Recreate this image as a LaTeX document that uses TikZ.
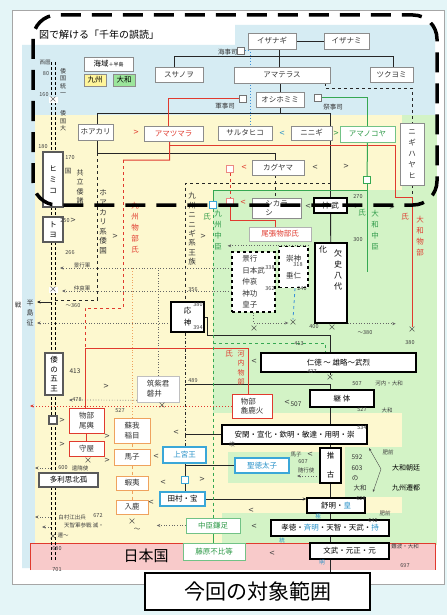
\documentclass[tikz,border=0pt]{standalone}
\usepackage{fontspec}
\setmainfont{Noto Sans CJK JP}
\usetikzlibrary{arrows.meta}

\definecolor{outb}{HTML}{E4F5F7}
\definecolor{skyb}{HTML}{D6ECF3}
\definecolor{yelb}{HTML}{FDF8CF}
\definecolor{grnb}{HTML}{D3F3C6}
\definecolor{pinkb}{HTML}{F8CACA}
\definecolor{redl}{HTML}{E03A2E}
\definecolor{grnl}{HTML}{35A852}
\definecolor{grnt}{HTML}{2E9A48}
\definecolor{cyanl}{HTML}{3BA7D8}
\definecolor{cyant}{HTML}{2590C8}
\definecolor{orng}{HTML}{EFA25E}
\definecolor{bluel}{HTML}{3A8FD8}
\definecolor{grayk}{HTML}{5A5A5A}
\definecolor{kyuy}{HTML}{FFF59A}
\definecolor{yamg}{HTML}{9BE59B}

\pgfdeclarelayer{bgfill}
\pgfdeclarelayer{lines}
\pgfsetlayers{bgfill,lines,main}

\tikzset{
  sz/.style 2 args={minimum width=#1pt, minimum height=#2pt},
  box/.style={draw=black!45, fill=white, inner sep=1pt, text=black!80, font=\fontsize{7.5}{9}\selectfont},
  kbox/.style={box, draw=black, line width=1.4pt, text=black},
  gbox/.style={box, draw=grayk, line width=1.8pt, text=black},
  rbox/.style={box, draw=redl, line width=1pt},
  obox/.style={box, draw=orng, line width=1pt},
  cbox/.style={box, draw=cyanl, line width=1.1pt, text=cyant},
  grbox/.style={box, draw=grnl!70, text=grnt},
  dbox/.style={box, draw=black, dashed, line width=1.4pt},
  vt/.style={align=center, font=\fontsize{7.5}{#1}\selectfont},
  lbl/.style={inner sep=0.3pt, text=black!80, font=\fontsize{6.5}{7.5}\selectfont},
  vlbl/.style={lbl, align=center, font=\fontsize{7}{#1}\selectfont},
  num/.style={inner sep=0.3pt, text=black!75, font=\fontsize{5.5}{6}\selectfont},
  mk/.style={inner sep=0pt, text=black!75, font=\fontsize{9}{9}\selectfont},
  xm/.style={inner sep=0.5pt, text=black!80, font=\fontsize{8}{8}\selectfont},
  sq/.style={draw=black!55, fill=white, minimum size=7pt, inner sep=0pt},
  ln/.style={black!85, line width=0.9pt},
  rl/.style={redl, line width=1pt},
  gl/.style={grnl, line width=1pt},
  dl/.style={black!60, dotted, line width=0.7pt},
  arr/.style={-{Stealth[length=3.5pt, width=3pt]}},
}

\begin{document}
\begin{tikzpicture}[x=1pt, y=-1pt]
\useasboundingbox (0,0) rectangle (447,615);

% coloured areas
\begin{pgfonlayer}{bgfill}
\fill[outb] (0,0) rectangle (447,615);
\draw[black!35, fill=white] (12,10) rectangle (444,584);
\fill[skyb] (22,45) -- (235,45) -- (235,25) -- (435,25) -- (435,115) -- (35,115) -- (35,568) -- (22,568) -- cycle;
\fill[yelb] (35,115) rectangle (402,545);
\fill[grnb] (402,115) rectangle (437,545);
\fill[grnb] (213,190) rectangle (437,413);
\fill[grnb] (228,452) rectangle (320,483);
\fill[grnb] (345,447) rectangle (437,497);
\fill[grnb] (222,513) rectangle (402,543);
\fill[pinkb] (30,543) rectangle (435,570);
\draw[redl, line width=0.8pt] (30,570) -- (30,543) -- (435,543) -- (435,570);
\end{pgfonlayer}

% title and legend
\node[anchor=west, inner sep=0pt, font=\fontsize{10}{10}\selectfont] (title) at (39,35) {図で解ける「千年の誤読」};
\node[box, sz={49}{14}, text=black] (lgsea) at (108.5,64) {海域{\fontsize{5}{5}\selectfont ＋半島}};
\node[box, sz={22}{12}, fill=kyuy, text=black] (lgkyu) at (95,80) {九州};
\node[box, sz={22}{12}, fill=yamg, text=black] (lgyam) at (124,80) {大和};

% kami
\node[box, sz={48}{16}] (izanagi) at (272,41) {イザナギ};
\node[box, sz={45}{16}] (izanami) at (346.5,41) {イザナミ};
\node[box, sz={48}{15}] (susanoo) at (179,74.5) {スサノヲ};
\node[box, sz={96}{16}] (amaterasu) at (282,75) {アマテラス};
\node[box, sz={43}{15}] (tsukuyomi) at (391.5,74.5) {ツクヨミ};
\node[box, sz={48}{15}] (oshihomimi) at (280,99.5) {オシホミミ};
\node[box, sz={35}{16}] (hoakari) at (95.5,132) {ホアカリ};
\node[box, sz={59}{15}, text=redl] (amatsumara) at (173.5,133.5) {アマツマラ};
\node[box, sz={54}{14}] (sarutahiko) at (245,133) {サルタヒコ};
\node[box, sz={41}{14}] (ninigi) at (311.5,133) {ニニギ};
\node[grbox, sz={55}{16}] (amanokoya) at (367.5,134) {アマノコヤ};
\node[box, sz={24}{62}, vt=11] (nigihayahi) at (412,154) {ニ\\ギ\\ハ\\ヤ\\ヒ};
\node[box, sz={52}{15}] (kaguyama) at (278,167.5) {カグヤマ};
\node[box, sz={49}{20}, vt=9, align=left] (shikarashi) at (276.5,208) {シカラ\\シ};
\node[box, sz={62}{14}, draw=black!30, text=redl] (owari) at (280,234) {尾張物部氏};
\node[kbox, sz={33}{15}] (jimmu) at (330.5,205.5) {神\ 武};

% squares
\node[sq] (ksq) at (241,51) {};
\node[sq] (gsq) at (243,99) {};
\node[sq] (ssq) at (318,98) {};
\node[sq, draw=redl!60] (psq1) at (230,169) {};
\node[sq, draw=redl!60] (psq2) at (230,202) {};
\node[sq, draw=grnl] (gsq3) at (367,180) {};
\node[sq, draw=cyanl] (cysq) at (213,205) {};
\node[lbl, anchor=east] (l-kaiji) at (238,52) {海事司};
\node[lbl] (l-gunji) at (225,106) {軍事司};
\node[lbl] (l-saiji) at (333,107) {祭事司};

% kyushu / yamato
\node[kbox, sz={32}{80}] (kesshi) at (331,283) {};
\node[lbl, text=black, font=\fontsize{8}{8}\selectfont] (l-ka) at (323,250) {化};
\node[vlbl=11, text=black, font=\fontsize{8}{11}\selectfont] (l-kesshi) at (338,270) {欠\\史\\八\\代};
\node[dbox, sz={43}{60}, vt=11.5, align=left] (keiko) at (253.5,282) {景行\\日本武\\仲哀\\神功\\皇子};
\node[dbox, sz={29}{41}, vt=17, align=left] (sujin) at (293.5,267) {崇神\\垂仁};
\node[kbox, sz={33}{30}, vt=12] (ojin) at (187.5,317) {応\\神};
\node[kbox, sz={155}{19}] (nintoku) at (338.5,362.5) {仁徳\ ～\ 雄略～武烈};
\node[rbox, sz={40}{24}, vt=9, align=left] (arakabi) at (252,406) {物部\\麁鹿火};
\node[kbox, sz={64}{17}] (keitai) at (342,398.5) {継\ 体};
\node[box, sz={42}{26}, draw=black!25, vt=10, align=left] (iwai) at (158,389) {筑紫君\\磐井};
\node[rbox, sz={35}{25}, vt=10, align=left] (okoshi) at (86.5,420.5) {物部\\尾輿};
\node[rbox, sz={35}{15}] (moriya) at (86.5,448.5) {守屋};
\node[obox, sz={36}{25}, vt=10, align=left] (iname) at (132,430.5) {蘇我\\稲目};
\node[obox, sz={36}{16}] (umako) at (132,457) {馬子};
\node[obox, sz={32}{14}] (emishi) at (132,483) {蝦夷};
\node[obox, sz={32}{14}] (iruka) at (132,507) {入鹿};
\node[cbox, sz={43}{16}] (jogu) at (184.5,455) {上宮王};
\node[sq, draw=cyanl, line width=1pt] (csq) at (185,480) {};
\node[cbox, sz={45}{14}, text=black] (tamura) at (182.5,499) {田村・宝};
\node[cbox, sz={54}{15}] (shotoku) at (262,465.5) {聖徳太子};
\node[grbox, sz={54}{15}] (kamatari) at (213,525.5) {中臣鎌足};
\node[grbox, sz={62}{17}] (fuhito) at (214,551.5) {藤原不比等};
\node[kbox, sz={145}{19}] (ankan) at (294.5,434.5) {安閑・宣化・欽明・敏達・用明・崇};
\node[kbox, sz={21}{35}, vt=19] (suiko) at (330.5,465.5) {推\\古};
\node[kbox, sz={58}{15}] (jomei) at (336,505.5) {舒明・\textcolor{cyant}{皇}};
\node[kbox, sz={118}{16}] (kotoku) at (330,528) {孝徳・\textcolor{cyant}{斉明}・天智・天武・\textcolor{cyant}{持}};
\node[kbox, sz={79}{16}] (mommu) at (349.5,551) {文武・元正・元};

% left column
\node[gbox, sz={20}{55}, vt=11] (himiko) at (53,179.5) {ヒ\\ミ\\コ};
\node[gbox, sz={20}{25}, vt=10] (toyo) at (53,229.5) {ト\\ヨ};
\node[gbox, sz={18}{42}, vt=9.5] (goou) at (54,374) {倭\\の\\五\\王};
\node[gbox, sz={59}{14}] (tarishi) at (68.5,480) {多利思北孤};
\node[gbox, minimum size=8pt, inner sep=0pt] (wsq) at (53,420) {};
\node[draw, fill=white, line width=2pt, sz={225}{37}, font=\fontsize{21}{21}\selectfont] (konkai) at (257.5,591.5) {今回の対象範囲};
\node[font=\fontsize{15}{15}\selectfont] (nihon) at (146,556) {日本国};

% timeline texts
\node[num] (l-seireki) at (45,63) {西暦};
\node[num] (l-80) at (46,74) {80};
\node[vlbl=7.3, font=\fontsize{6}{7.3}\selectfont] (l-toitsu) at (63,82) {倭\\国\\統\\一};
\node[num] (l-160) at (44,95) {160};
\node[xm, fill=white] (x160) at (53,100) {×};
\node[vlbl=7.3, font=\fontsize{6}{7.3}\selectfont] (l-wotai) at (63,121) {倭\\国\\大};
\node[num] (l-180) at (43,147) {180};
\node[num] (l-170) at (70,158) {170};
\node[lbl] (l-kuni) at (68,171) {国};
\node[vlbl=9.5] (l-kyoritsu) at (80,187) {共\\立\\倭\\諸};
\node[num] (l-250) at (65,221) {250};
\node[mk] (m-250) at (73,221) {>};
\node[num] (l-266) at (70,253) {266};
\node[num] (l-keikogun) at (82,265) {景行軍};
\node[num] (l-chuaigun) at (82,288) {仲哀軍};
\node[xm, fill=white] (x290) at (53,290) {×};
\node[num] (l-360) at (73,306) {～360};
\node[lbl] (l-sen) at (18,305) {戦};
\node[vlbl=10] (l-hanto) at (30,313) {半\\島\\征};
\node[vlbl=9.6, font=\fontsize{7.5}{9.6}\selectfont] (l-hoakarikei) at (103,222) {ホ\\ア\\カ\\リ\\系\\倭\\国};
\node[mk] (m-hoa) at (115,237) {>};
\node[vlbl=11, text=redl, font=\fontsize{7.5}{11}\selectfont] (l-kyumono) at (135,228) {九\\州\\物\\部\\氏};
\node[vlbl=9.4, font=\fontsize{7.5}{9.4}\selectfont] (l-kyuninigi) at (192,229) {九\\州\\ニ\\ニ\\ギ\\系\\王\\族};
\node[mk] (m-kyu) at (203,237) {>};
\node[lbl, text=grnt, font=\fontsize{7.5}{8}\selectfont] (l-uji1) at (207,217) {氏};
\node[vlbl=11, text=grnt, font=\fontsize{7.5}{11}\selectfont] (l-kyunaka) at (218,230) {九\\州\\中\\臣};
\node[num] (l-356) at (193,290) {356};
\node[num] (l-380a) at (198,305) {380};
\node[num] (l-394) at (198,328) {394};
\node[num] (l-489) at (193,381) {489};
\node[lbl] (l-413a) at (75,371) {413};
\node[mk] (m-413) at (106,387) {>};
\node[num] (l-478) at (77,400) {478};
\node[num] (l-527a) at (120,411) {527};
\node[xm] (xiwai) at (162,406) {×};
\node[mk] (m-ok) at (62,421) {>};
\node[mk] (m-mo) at (62,445) {>};
\node[mk] (m-in) at (107,437) {>};
\node[mk] (m-um) at (107,461) {>};
\node[xm] (xmori) at (88,461) {×};
\node[mk] (m-an) at (176,433) {<};
\node[mk] (m-jo) at (156,457) {<};
\node[num] (l-600) at (63,468) {600};
\node[num] (l-kenzui) at (80,468) {遣隋使};
\node[num] (l-hakuson) at (72,517) {白村江出兵};
\node[num] (l-672) at (98,516) {672};
\node[num] (l-tenji) at (84,525) {天智軍参戦\ 滅・};
\node[xm] (xsen) at (53,537) {×};
\node[num] (l-sen2) at (63,535) {遷～};
\node[num] (l-680) at (57,549) {680};
\node[num] (l-701) at (57,570) {701};
\node[xm] (xiruka) at (132,522) {×};
\node[lbl] (l-nami) at (137,530) {～};
\node[mk] (m-ir) at (151,503) {<};
\node[mk] (m-em) at (163,483) {<};
\node[mk] (m-cs) at (202,480) {>};

% right texts
\node[mk, text=redl] (m-ama) at (136,133) {>};
\node[mk, text=cyant] (m-sar) at (282,134) {<};
\node[mk, text=grnt] (m-nin) at (336,134) {>};
\node[mk, text=redl] (m-kag) at (244,168) {<};
\node[mk] (m-kag2) at (315,168) {<};
\node[mk] (m-kag3) at (346,167) {>};
\node[mk, text=redl] (m-shi) at (243,203) {<};
\node[mk] (m-shi2) at (308,207) {<};
\node[num] (l-270) at (358,197) {270};
\node[num] (l-300) at (358,240) {300};
\node[mk] (m-270) at (357,207) {>};
\node[mk] (m-271) at (392,208) {>};
\node[lbl, text=grnt, font=\fontsize{7.5}{8}\selectfont] (l-uji2) at (362,213) {氏};
\node[vlbl=11, text=grnt, font=\fontsize{7.5}{11}\selectfont] (l-yamanaka) at (375,230) {大\\和\\中\\臣};
\node[lbl, text=redl, font=\fontsize{7.5}{8}\selectfont] (l-uji4) at (405,217) {氏};
\node[vlbl=11, text=redl, font=\fontsize{7.5}{11}\selectfont] (l-yamamono) at (420,236) {大\\和\\物\\部};
\node[num] (l-338) at (270,268) {338};
\node[num] (l-362) at (270,289) {362};
\node[num] (l-318) at (298,265) {318};
\node[num] (l-240) at (302,289) {240};
\node[xm] (xkei) at (254,329) {×};
\node[xm] (xa) at (293,323) {×};
\node[xm] (xkes) at (332,328) {×};
\node[xm] (xr) at (412,330) {×};
\node[num] (l-400) at (314,327) {400};
\node[num] (l-380b) at (365,333) {～380};
\node[num] (l-380c) at (410,343) {380};
\node[num] (l-413b) at (299,344) {413};
\node[lbl, text=redl, font=\fontsize{7.5}{8}\selectfont] (l-uji3) at (229,354) {氏};
\node[vlbl=9.5, text=redl] (l-kawamono) at (241,368) {河\\内\\物\\部};
\node[mk] (m-nint) at (254,362) {<};
\node[num] (l-427) at (312,371) {427};
\node[xm] (xnin) at (330,378) {×};
\node[num] (l-507) at (357,384) {507};
\node[num] (l-kawachi) at (389,383) {河内・大和};
\node[num] (l-527b) at (362,410) {527};
\node[num] (l-yamato2) at (387,410) {大和};
\node[mk] (m-ara) at (287,403) {<};
\node[lbl] (l-507b) at (296,404) {507};
\node[num] (l-534) at (362,428) {534};
\node[num] (l-shun) at (232,444) {峻};
\node[num] (l-umako2) at (296,455) {馬子};
\node[mk] (m-sui) at (310,455) {<};
\node[num] (l-607) at (303,462) {607};
\node[num] (l-zuiko) at (306,470) {随行使};
\node[lbl] (l-592) at (357,457) {592};
\node[lbl] (l-603) at (357,468) {603};
\node[lbl] (l-no) at (355,478) {の};
\node[lbl] (l-yamato3) at (360,488) {大和};
\node[num] (l-hizen1) at (388,452) {肥前};
\node[lbl, text=black, font=\fontsize{7}{8}\selectfont] (l-chotei) at (406,468) {大和朝廷};
\node[lbl, text=black, font=\fontsize{7}{8}\selectfont] (l-sento) at (406,488) {九州遷都};
\node[num] (l-628) at (361,499) {628};
\node[num] (l-hizen2) at (385,513) {肥前};
\node[num, text=cyant] (l-goku) at (318,516) {極};
\node[num] (l-645) at (373,521) {645};
\node[num, text=cyant] (l-toh) at (282,540) {統};
\node[mk] (m-jom) at (251,511) {<};
\node[mk] (m-kot) at (254,527) {<};
\node[mk] (m-mom) at (272,554) {<};
\node[num] (l-naniwa) at (405,546) {難波・大和};
\node[num] (l-697) at (405,566) {697};
\node[num, text=cyant] (l-mei) at (322,563) {明};

% connectors
\begin{pgfonlayer}{lines}
\foreach \tx in {51,55}
  \draw[black, densely dashed, line width=0.8pt] (\tx,62) -- (\tx,560);
\draw[ln] (izanagi) -- (izanami);
\draw[ln] ([xshift=7pt]izanagi.south) -- ([xshift=-3pt]amaterasu.north);
\draw[ln] ([xshift=-5pt]susanoo.north) -- ++(0,-10) -| ([xshift=2pt]tsukuyomi.north);
\draw[ln] (oshihomimi.north |- amaterasu.south) -- (oshihomimi.north);
\draw[ln] (oshihomimi.south) -- ++(0,6) coordinate (osj);
\draw[ln] ([xshift=1.5pt]hoakari.north) |- (osj) -| (ninigi.north -| jimmu);
\draw[ln] (ninigi.south -| jimmu) -- (jimmu.north);
\draw[ln] (jimmu) -- (kesshi);
\draw[ln] ([xshift=1.5pt]hoakari.south) -- ++(0,13) coordinate (hkj) -| ([xshift=-3pt]kaguyama.north);
\coordinate (hw) at (55,300);
\draw[ln, dashed] (hkj) -- (hkj |- hw) -- (hw);
\draw[ln, dashed] ([xshift=-3pt]kaguyama.south) -- ([xshift=-1.5pt]shikarashi.north);
\draw[ln, dashed] ([xshift=-5pt]amaterasu.south east) -- ++(0,5) -| (nigihayahi.north);
\draw[ln, dashed] (nigihayahi.south) -- ++(0,12);
% ninigi line
\coordinate (kyu) at (185,183);
\draw[ln, dashed] (jimmu.north |- kyu) -- (kyu) -- (kyu |- ojin.north);
\draw[ln, dash dot] (kyu |- ojin.south) -- (kyu |- jogu.north);
\draw[ln] (jogu.south -| csq) -- (csq) -- (tamura.north -| csq);
\draw[ln] (csq |- shotoku) -- (shotoku.west);
\draw[ln, arr] (tamura.east) -- (tamura.east -| jomei.west);
\draw[ln] (ankan.west) -- (ankan.west -| kyu);
\draw[ln] (ojin.east) -- ++(3,0) -- ++(0,18) -| ([xshift=-8pt]nintoku.north);
\coordinate (trunk) at (330,0);
\draw[ln] (nintoku.south -| trunk) -- (xnin);
\coordinate (k489) at (185,384);
\draw[ln] (k489) -| (keitai.north -| trunk);
\draw[ln] (keitai.south -| trunk) -- (ankan.north -| trunk);
\draw[ln] (ankan.south -| trunk) -- (suiko.north -| trunk);
\draw[ln] (suiko.south -| trunk) -- (jomei.north -| trunk);
\draw[ln] (jomei.south -| trunk) -- (kotoku.north -| trunk);
\draw[ln] (kotoku.south -| trunk) -- (mommu.north -| trunk);
\draw[ln] (mommu.south -| trunk) -- (konkai.north -| trunk);
% mononobe (red)
\draw[rl] (gsq.west) -| ([xshift=-5pt]amatsumara.north);
\draw[rl] ([xshift=-4pt]amatsumara.south) -- ++(0,19) coordinate (rj0) -- (123,160) coordinate (rj1);
\coordinate (rj2) at (169.5,145);
\draw[rl] (rj2) -- (395,145) -- (395,197) -| (xr.north);
\draw[rl, dashed] (rj1) -- (123,308) -- (85,308) -- (85,348) coordinate (rj3);
\draw[rl] (rj3) -| ([xshift=-4pt]arakabi.north);
\draw[rl] (rj3) -- (rj3 |- okoshi.north);
\draw[rl] (okoshi) -- (moriya);
\draw[rl, dashed] (psq1) -- (psq2);
\draw[rl] (psq2.south) -- ++(0,15) -| ([xshift=-5pt]owari.north);
\coordinate (rwest) at (30,406);
\draw[rl, dotted, arr] (arakabi.west) -- (rwest);
% nakatomi (green)
\draw[gl] (ssq.east) -| (amanokoya.north);
\draw[gl] (amanokoya.south) -- (gsq3);
\draw[gl] (gsq3) -- ++(0,92);
\coordinate (kn) at (213,190);
\draw[gl] (kn) -- (kn -| gsq3);
\draw[gl] (kn) -- (cysq);
\draw[gl, dashed] (cysq) -- (kamatari.north -| cysq);
\draw[gl] (kamatari) -- (fuhito.north -| kamatari);
\coordinate (g413) at (213,343);
\draw[gl, dashed] (g413) -| ([xshift=-13pt]nintoku.north);
% blue
\draw[bluel, dotted, line width=1pt] (ksq.east) -| ([xshift=5pt]sarutahiko.north);
\draw[bluel, dashed, line width=0.8pt] ([xshift=1.5pt]sujin.south) -- (xa.north);
% dotted
\coordinate (kg) at (60,268);
\coordinate (cg) at (62,291);
\draw[dl, arr] (keiko.west |- kg) -- (kg);
\draw[dl, arr] (keiko.west |- cg) -- (cg);
\draw[dl, arr] (sujin.north east) -- ++(-81,0);
\draw[dl, arr] (keiko.south) |- (xa.west);
\draw[dl, arr] (kesshi.south east) -- ++(48,0);
\draw[dl] (iwai.north) -- (iwai.north |- kg);
\draw[orng, dotted, line width=0.8pt] (iname.north) -- (iname.north |- kg);
\draw[orng, dashed, line width=0.8pt] (iname) -- (umako);
\draw[orng, dashed, line width=0.8pt] (umako) -- (emishi);
\draw[orng, dashed, line width=0.8pt] (emishi) -- (iruka);
\coordinate (c478) at (69,400);
\draw[dl, arr] ([yshift=2pt]iwai.south west) -- (c478);
\coordinate (c323) at (37,323);
\draw[dl, arr] (ojin.west |- c323) -- (c323);
\coordinate (c302a) at (51,302);
\coordinate (c302b) at (37,302);
\draw[ln, arr] (c302a) -- (c302b);
\coordinate (c468a) at (51,468);
\coordinate (c468b) at (35,468);
\draw[dl, arr] (c468a) -- (c468b);
\coordinate (c517a) at (51,517);
\coordinate (c517b) at (35,517);
\draw[dl, arr] (c517a) -- (c517b);
\coordinate (c527a) at (51,527);
\coordinate (c527b) at (42,527);
\draw[dl, arr] (c527a) -- (c527b);
\draw[dl, arr] (kamatari.west) -- ++(-29,0);
\coordinate (c476) at (297,476);
\draw[dl, arr] (suiko.west |- c476) -- (c476);
\draw[black!70, {Stealth[length=3pt]}-{Stealth[length=3pt]}] (369,448) -- (381,469) -- (373,492);
\end{pgfonlayer}

% era border
\draw[black, line width=3.5pt, dash pattern=on 20pt off 11pt, rounded corners=24pt] (33,15) rectangle (437,205);

\end{tikzpicture}
\end{document}
